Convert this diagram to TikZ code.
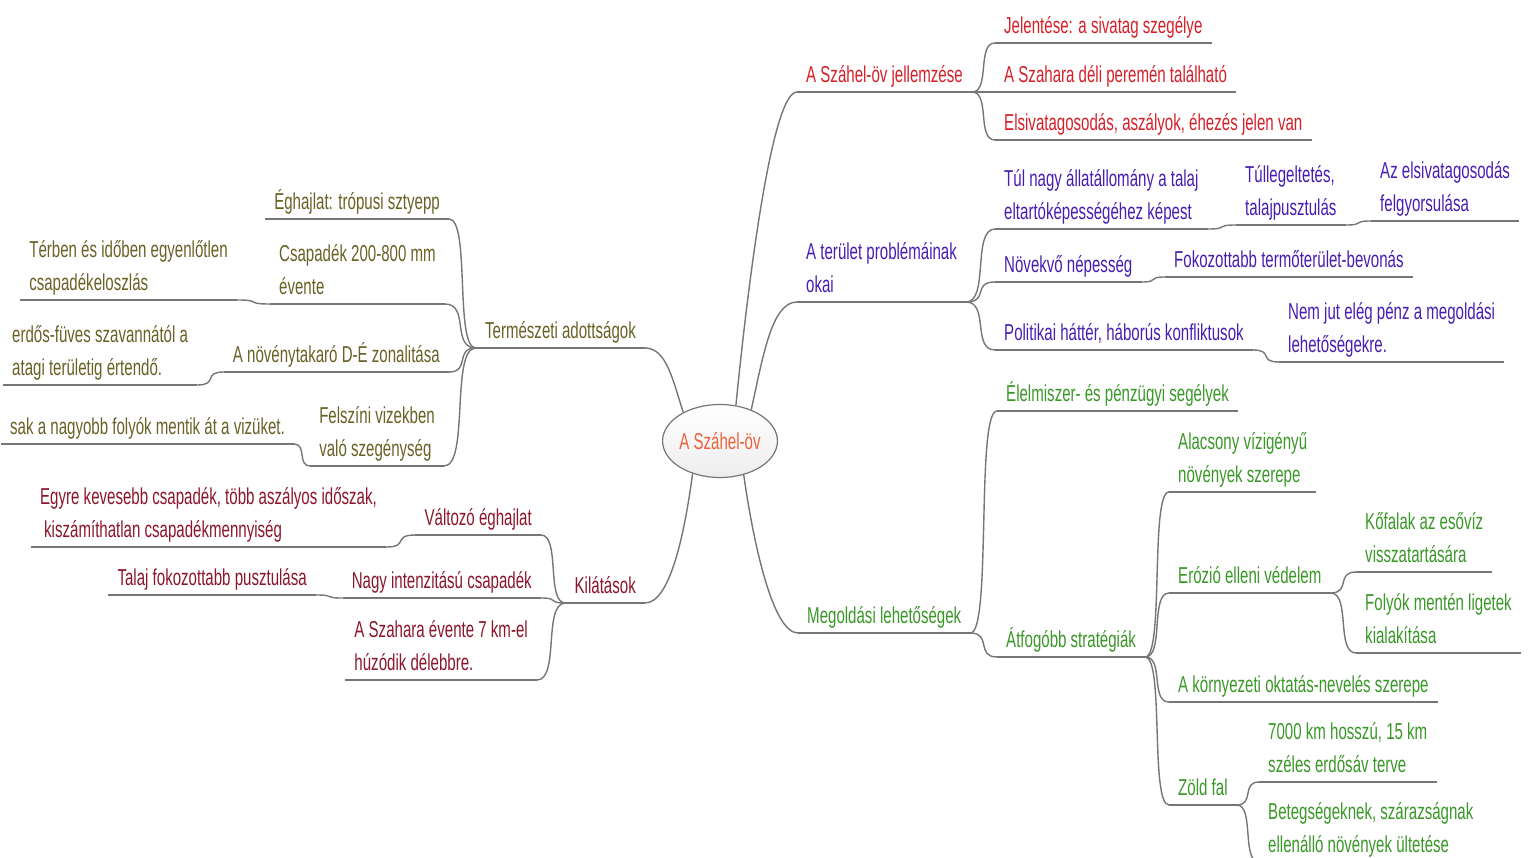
\documentclass[tikz,border=0pt]{standalone}
\usepackage{fontspec}
\setmainfont{Liberation Sans}[FakeStretch=0.655]
\usepackage{xcolor}
\usetikzlibrary{shapes,arrows}
\usetikzlibrary{positioning}
\usetikzlibrary{calc}
\definecolor{szred}{RGB}{214,32,40}
\definecolor{szblue}{RGB}{72,30,178}
\definecolor{szgreen}{RGB}{58,152,40}
\definecolor{szolive}{RGB}{104,98,38}
\definecolor{szwine}{RGB}{140,22,44}
\definecolor{szorange}{RGB}{236,98,60}
\definecolor{szline}{RGB}{118,118,118}
\tikzstyle{line} = [draw=szline, line width=1.4pt]

\begin{document}
\begin{tikzpicture}[x=1pt, y=-1pt,
		every node/.style={font=\fontsize{23}{33}\selectfont},
		topic/.style={inner xsep=9pt, inner ysep=2pt, text depth=7pt, align=left,
			append after command={(\tikzlastnode.south west) edge[line] (\tikzlastnode.south east)}},
		redt/.style={topic, text=szred},
		bluet/.style={topic, text=szblue},
		greent/.style={topic, text=szgreen},
		olivet/.style={topic, text=szolive},
		winet/.style={topic, text=szwine},
		twig/.style={to path={.. controls ($(\tikztostart)!0.8!(\tikztostart -| \tikztotarget)$)
			and ($(\tikztotarget)!0.8!(\tikztotarget -| \tikztostart)$) .. (\tikztotarget)}},
		hub/.style={ellipse, draw=szline, line width=1.2pt, top color=white, bottom color=black!7,
			text=szorange, minimum width=106pt, minimum height=73pt, inner sep=0pt}]
		\path [use as bounding box, fill=white] (0,0) rectangle (1530,858);
		\node [hub] (ctr) at (720,441) {A Száhel-öv};
		%% right side
		\node [redt, anchor=south west] (jell) at (797,92) {A Száhel-öv jellemzése};
		\node [redt, anchor=south west] (jel1) at (995,43) {Jelentése: a sivatag szegélye};
		\node [redt, anchor=south west] (jel2) at (995,92) {A Szahara déli peremén található};
		\node [redt, anchor=south west] (jel3) at (995,140) {Elsivatagosodás, aszályok, éhezés jelen van};
		\node [bluet, anchor=south west] (okai) at (797,302) {A terület problémáinak\\okai};
		\node [bluet, anchor=south west] (ok1) at (995,229) {Túl nagy állatállomány a talaj\\eltartóképességéhez képest};
		\node [bluet, anchor=south west] (ok11) at (1236,225) {Túllegeltetés,\\talajpusztulás};
		\node [bluet, anchor=south west] (ok111) at (1371,221) {Az elsivatagosodás\\felgyorsulása};
		\node [bluet, anchor=south west] (ok2) at (995,282) {Növekvő népesség};
		\node [bluet, anchor=south west] (ok21) at (1165,277) {Fokozottabb termőterület-bevonás};
		\node [bluet, anchor=south west] (ok3) at (995,350) {Politikai háttér, háborús konfliktusok};
		\node [bluet, anchor=south west] (ok31) at (1279,362) {Nem jut elég pénz a megoldási\\lehetőségekre.};
		\node [greent, anchor=south west] (meg) at (798,633) {Megoldási lehetőségek};
		\node [greent, anchor=south west] (meg1) at (997,411) {Élelmiszer- és pénzügyi segélyek};
		\node [greent, anchor=south west] (meg2) at (997,657) {Átfogóbb stratégiák};
		\node [greent, anchor=south west] (st1) at (1169,492) {Alacsony vízigényű\\növények szerepe};
		\node [greent, anchor=south west] (st2) at (1169,593) {Erózió elleni védelem};
		\node [greent, anchor=south west] (st21) at (1356,572) {Kőfalak az esővíz\\visszatartására};
		\node [greent, anchor=south west] (st22) at (1356,653) {Folyók mentén ligetek\\kialakítása};
		\node [greent, anchor=south west] (st3) at (1169,702) {A környezeti oktatás-nevelés szerepe};
		\node [greent, anchor=south west] (st4) at (1169,805) {Zöld fal};
		\node [greent, anchor=south west] (st41) at (1259,782) {7000 km hosszú, 15 km\\széles erdősáv terve};
		\node [greent, anchor=south west] (st42) at (1259,862) {Betegségeknek, szárazságnak\\ellenálló növények ültetése};
		%% left side
		\node [olivet, anchor=south east] (term) at (645,348) {Természeti adottságok};
		\node [olivet, anchor=south east] (t1) at (449,219) {Éghajlat: trópusi sztyepp};
		\node [olivet, anchor=south east] (t2) at (445,304) {Csapadék 200-800 mm\\évente};
		\node [olivet, anchor=south east] (t21) at (237,300) {Térben és időben egyenlőtlen\\csapadékeloszlás};
		\node [olivet, anchor=south east] (t3) at (449,372) {A növénytakaró D-É zonalitása};
		\node [olivet, anchor=south west] (t31) at (3,385) {erdős-füves szavannától a\\atagi területig értendő.};
		\node [olivet, anchor=south east] (t4) at (444,466) {Felszíni vizekben\\való szegénység};
		\node [olivet, anchor=south west] (t41) at (1,444) {sak a nagyobb folyók mentik át a vizüket.};
		\node [winet, anchor=south east] (kil) at (645,603) {Kilátások};
		\node [winet, anchor=south east] (k1) at (541,535) {Változó éghajlat};
		\node [winet, anchor=south west] (k11) at (31,547) {Egyre kevesebb csapadék, több aszályos időszak,\\\hspace*{4pt}kiszámíthatlan csapadékmennyiség};
		\node [winet, anchor=south east] (k2) at (541,598) {Nagy intenzitású csapadék};
		\node [winet, anchor=south east] (k21) at (316,595) {Talaj fokozottabb pusztulása};
		\node [winet, anchor=south east] (k3) at (537,680) {A Szahara évente 7 km-el\\húzódik délebbre.};
		%% Links
		\path [line] (ctr.66) .. controls +(14,-140) and +(-24,0) .. (jell.south west);
		\path [line] (ctr.45) .. controls +(12,-55) and +(-25,0) .. (okai.south west);
		\path [line] (ctr.-55) .. controls +(10,70) and +(-25,0) .. (meg.south west);
		\path [line] (ctr.142) .. controls +(-10,-30) and +(22,0) .. (term.south east);
		\path [line] (ctr.-130) .. controls +(-8,60) and +(25,0) .. (kil.south east);
		\foreach \kid in {jel1,jel2,jel3}
			\path [line] (jell.south east) to[twig] (\kid.south west);
		\foreach \kid in {ok1,ok2,ok3}
			\path [line] (okai.south east) to[twig] (\kid.south west);
		\path [line] (ok1.south east) to[twig] (ok11.south west);
		\path [line] (ok11.south east) to[twig] (ok111.south west);
		\path [line] (ok2.south east) to[twig] (ok21.south west);
		\path [line] (ok3.south east) to[twig] (ok31.south west);
		\foreach \kid in {meg1,meg2}
			\path [line] (meg.south east) to[twig] (\kid.south west);
		\foreach \kid in {st1,st2,st3,st4}
			\path [line] (meg2.south east) to[twig] (\kid.south west);
		\foreach \kid in {st21,st22}
			\path [line] (st2.south east) to[twig] (\kid.south west);
		\foreach \kid in {st41,st42}
			\path [line] (st4.south east) to[twig] (\kid.south west);
		\foreach \kid in {t1,t2,t3,t4}
			\path [line] (term.south west) to[twig] (\kid.south east);
		\path [line] (t2.south west) to[twig] (t21.south east);
		\path [line] (t3.south west) to[twig] (t31.south east);
		\path [line] (t4.south west) to[twig] (t41.south east);
		\foreach \kid in {k1,k2,k3}
			\path [line] (kil.south west) to[twig] (\kid.south east);
		\path [line] (k1.south west) to[twig] (k11.south east);
		\path [line] (k2.south west) to[twig] (k21.south east);
\end{tikzpicture}
\end{document}
